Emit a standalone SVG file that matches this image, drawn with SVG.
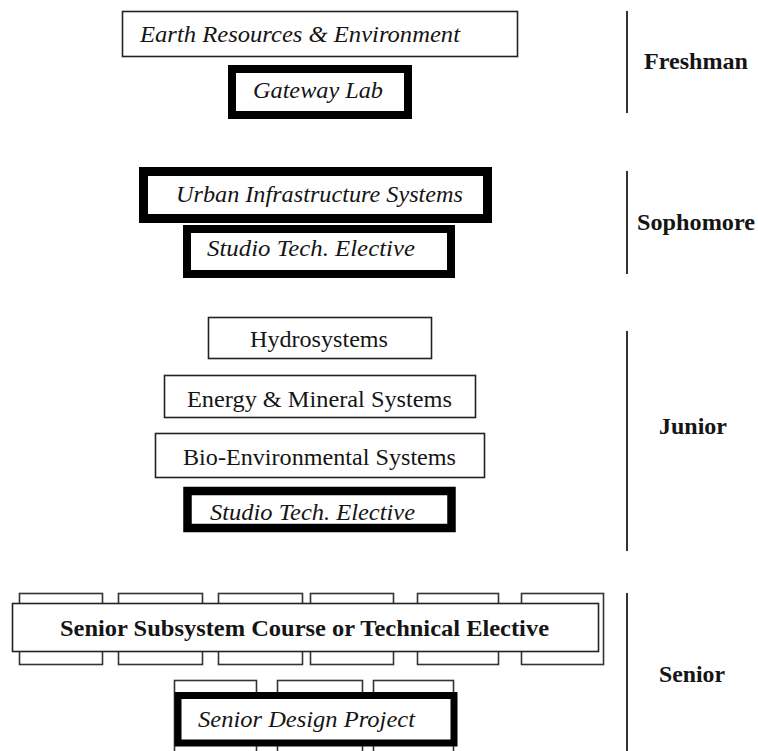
<svg xmlns="http://www.w3.org/2000/svg" width="758" height="751" viewBox="0 0 758 751">
  <style>
    text { font-family: "Liberation Serif", "Times New Roman", serif; font-size: 24px; fill: #151515; }
    .it { font-style: italic; }
    .bd { font-weight: bold; }
    .thin { fill: #fff; stroke: #222; stroke-width: 1.6; }
    .thick { fill: #fff; stroke: #000; }
    .tab { fill: #fff; stroke: #333; stroke-width: 1.6; }
    .bar { stroke: #333; stroke-width: 2; fill: none; }
  </style>

  <!-- Year dividers -->
  <g id="dividers">
    <line class="bar" x1="627" y1="11" x2="627" y2="113"/>
    <line class="bar" x1="627" y1="171" x2="627" y2="274"/>
    <line class="bar" x1="627" y1="331" x2="627" y2="551"/>
    <line class="bar" x1="627" y1="593" x2="627" y2="751"/>
  </g>

  <!-- Year labels -->
  <g id="labels">
    <text class="bd" x="644" y="69" textLength="104" lengthAdjust="spacingAndGlyphs">Freshman</text>
    <text class="bd" x="637" y="230" textLength="118" lengthAdjust="spacingAndGlyphs">Sophomore</text>
    <text class="bd" x="659" y="434" textLength="68" lengthAdjust="spacingAndGlyphs">Junior</text>
    <text class="bd" x="659" y="682" textLength="66" lengthAdjust="spacingAndGlyphs">Senior</text>
  </g>

  <!-- Freshman -->
  <g id="earth-resources">
    <rect class="thin" x="122.5" y="11.5" width="395" height="45"/>
    <text class="it" x="140" y="42" textLength="320" lengthAdjust="spacingAndGlyphs">Earth Resources &amp; Environment</text>
  </g>
  <g id="gateway-lab">
    <rect class="thick" x="232" y="69" width="176" height="46" stroke-width="8"/>
    <text class="it" x="253" y="98" textLength="130" lengthAdjust="spacingAndGlyphs">Gateway Lab</text>
  </g>

  <!-- Sophomore -->
  <g id="urban-infrastructure">
    <rect class="thick" x="143.5" y="171.5" width="344" height="47" stroke-width="9"/>
    <text class="it" x="176" y="202" textLength="287" lengthAdjust="spacingAndGlyphs">Urban Infrastructure Systems</text>
  </g>
  <g id="studio-soph">
    <rect class="thick" x="187" y="229" width="264" height="45" stroke-width="8"/>
    <text class="it" x="207" y="256" textLength="208" lengthAdjust="spacingAndGlyphs">Studio Tech. Elective</text>
  </g>

  <!-- Junior -->
  <g id="hydrosystems">
    <rect class="thin" x="208.5" y="317.5" width="223" height="41"/>
    <text x="250" y="347" textLength="138" lengthAdjust="spacingAndGlyphs">Hydrosystems</text>
  </g>
  <g id="energy-mineral">
    <rect class="thin" x="164.5" y="375.5" width="311" height="42"/>
    <text x="187" y="407" textLength="265" lengthAdjust="spacingAndGlyphs">Energy &amp; Mineral Systems</text>
  </g>
  <g id="bio-environmental">
    <rect class="thin" x="155.5" y="433.5" width="329" height="44"/>
    <text x="183" y="465" textLength="273" lengthAdjust="spacingAndGlyphs">Bio-Environmental Systems</text>
  </g>
  <g id="studio-junior">
    <rect class="thick" x="187.5" y="491" width="264" height="37" stroke-width="8.5"/>
    <text class="it" x="210" y="520" textLength="205" lengthAdjust="spacingAndGlyphs">Studio Tech. Elective</text>
  </g>

  <!-- Senior: stacked subsystem courses -->
  <g id="senior-subsystem">
    <g>
      <rect class="tab" x="19.5" y="593.5" width="83" height="71"/>
      <rect class="tab" x="118.5" y="593.5" width="84" height="71"/>
      <rect class="tab" x="218.5" y="593.5" width="84" height="71"/>
      <rect class="tab" x="310.5" y="593.5" width="83" height="71"/>
      <rect class="tab" x="417.5" y="593.5" width="81" height="71"/>
      <rect class="tab" x="521.5" y="593.5" width="82" height="71"/>
    </g>
    <rect class="thin" x="12.5" y="603.5" width="586" height="48"/>
    <text class="bd" x="60" y="636" textLength="489" lengthAdjust="spacingAndGlyphs">Senior Subsystem Course or Technical Elective</text>
  </g>

  <!-- Senior: design project -->
  <g id="senior-design">
    <g>
      <rect class="tab" x="174.5" y="680.5" width="82" height="90"/>
      <rect class="tab" x="277.5" y="680.5" width="85" height="90"/>
      <rect class="tab" x="373.5" y="680.5" width="80" height="90"/>
    </g>
    <rect class="thick" x="178" y="695.5" width="276" height="47.5" stroke-width="7"/>
    <text class="it" x="198" y="727" textLength="217" lengthAdjust="spacingAndGlyphs">Senior Design Project</text>
  </g>
</svg>
